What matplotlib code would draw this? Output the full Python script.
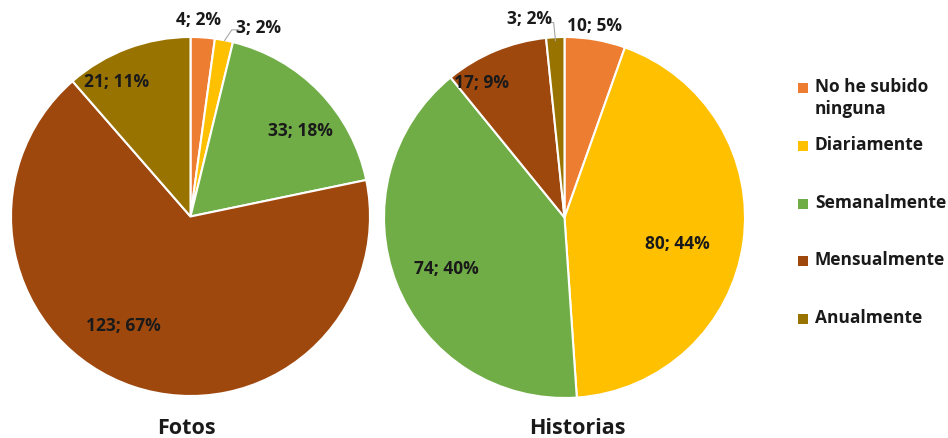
import numpy as np
import matplotlib
matplotlib.use("Agg")
import matplotlib.pyplot as plt
from matplotlib.patches import Rectangle
from matplotlib.transforms import blended_transform_factory

plt.rcParams['font.family'] = ['Open Sans', 'DejaVu Sans']
plt.rcParams['font.weight'] = 'bold'

categorias = ['No he subido\nninguna', 'Diariamente', 'Semanalmente', 'Mensualmente', 'Anualmente']
colores = ['#ED7D31', '#FFC000', '#70AD47', '#9E480E', '#997300']

fotos = [4, 3, 33, 123, 21]
fotos_pct = [2, 2, 18, 67, 11]
historias = [10, 80, 74, 17, 3]
historias_pct = [5, 44, 40, 9, 2]

# radial position and angle tweak for each data label
pos_fotos = [(1.10, 1.5), (1.12, -9), (0.78, -6), (0.71, -13), (0.86, 8)]
pos_hist = [(1.08, 1), (0.64, -5), (0.71, 1.5), (0.88, 9), (1.12, 7)]

W, H = 948, 439


def dibujar_pie(ax, valores, pcts, posiciones, titulo, tx, guias):
    wedges, _ = ax.pie(valores, colors=colores, startangle=90, counterclock=False,
                       radius=1, wedgeprops=dict(edgecolor='white', linewidth=1.5))
    for w, v, p, (r, da) in zip(wedges, valores, pcts, posiciones):
        mid = np.deg2rad((w.theta1 + w.theta2) / 2 + da)
        ax.text(r * np.cos(mid), r * np.sin(mid), f'{v}; {p}%',
                ha='center', va='center', fontsize=12.5, color='#1a1a1a')
    for xs, ys in guias:
        ax.plot(xs, ys, color='#a6a6a6', lw=0.8, clip_on=False)
    ax.set_xlim(-1, 1)
    ax.set_ylim(-1, 1)
    ax.set_aspect('equal')
    ax.axis('off')
    # titulo: x en datos, y en coordenadas de figura
    trans = blended_transform_factory(ax.transData, ax.figure.transFigure)
    ax.text(tx, 5 / H, titulo, ha='center', va='baseline', fontsize=15.5,
            color='#1a1a1a', transform=trans)


fig = plt.figure(figsize=(9.48, 4.39), dpi=100)
ax1 = fig.add_axes([11 / W, 42 / H, 359 / W, 359 / H])
ax2 = fig.add_axes([384 / W, 40 / H, 361 / W, 361 / H])

dibujar_pie(ax1, fotos, fotos_pct, pos_fotos, 'Fotos', -0.02,
            [([0.27, 0.23, 0.19], [1.04, 1.04, 0.98])])
dibujar_pie(ax2, historias, historias_pct, pos_hist, 'Historias', 0.07,
            [([-0.10, -0.06, -0.05], [1.08, 1.08, 0.98])])

# leyenda
y0 = 89
paso = 57.8
for i, (c, lab) in enumerate(zip(colores, categorias)):
    y = H - (y0 + i * paso)
    fig.patches.append(Rectangle((798 / W, (y - 5) / H), 10 / W, 10 / H,
                                 facecolor=c, transform=fig.transFigure))
    fig.text(815 / W, (y + 11) / H, lab, ha='left', va='top', fontsize=12.5,
             color='#1a1a1a', linespacing=1.3)

fig.savefig('out.png', dpi=100)
